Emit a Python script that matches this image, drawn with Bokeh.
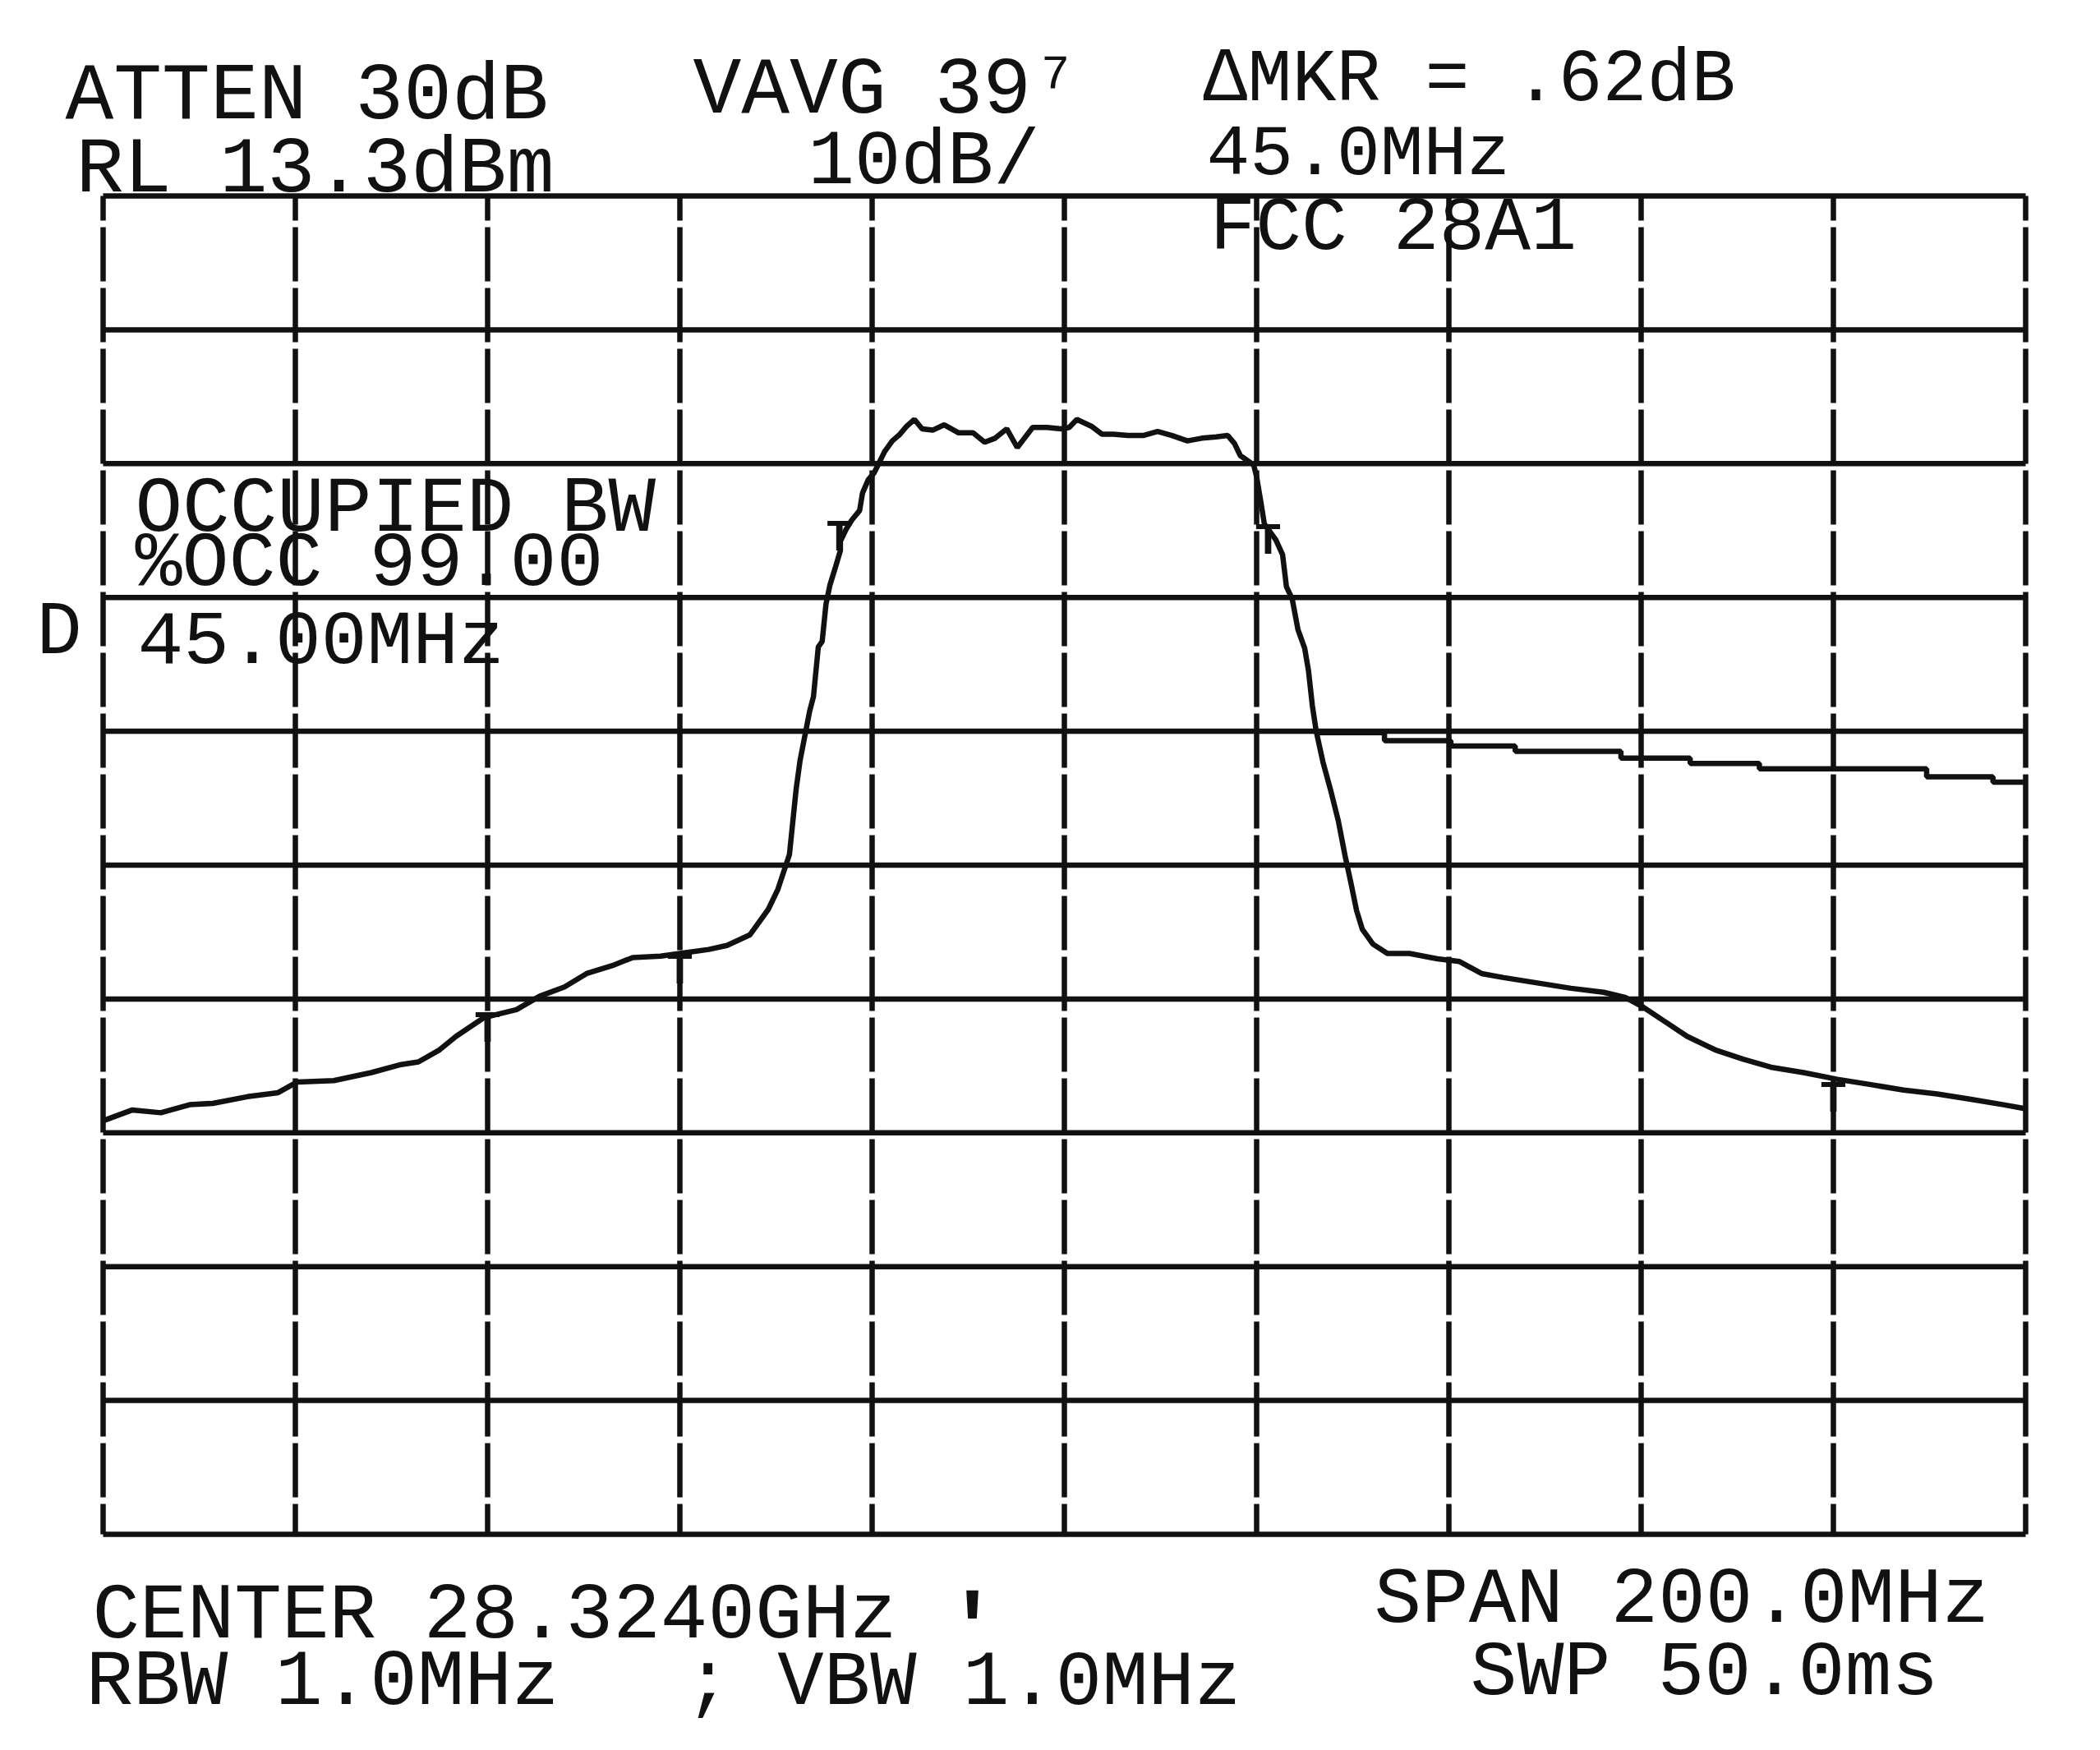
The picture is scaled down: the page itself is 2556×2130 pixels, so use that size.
from bokeh.plotting import figure
from bokeh.models import Label
from bokeh.core.properties import value
from bokeh.embed import file_html
from bokeh.resources import INLINE

# ---- axes of the analyser screen: 200 MHz span (20 MHz/div), RL 13.3 dBm, 10 dB/div
x_divs = [-100, -80, -60, -40, -20, 0, 20, 40, 60, 80, 100]
y_divs = [13.3, 3.3, -6.7, -16.7, -26.7, -36.7, -46.7, -56.7, -66.7, -76.7, -86.7]

# ---- main trace (offset from centre in MHz, level in dBm)
trace_mhz = [
    -100.0, -97.0, -94.0, -91.0, -88.6, -85.0, -81.8, -79.8, -76.0, -72.1, -69.0, -67.2, -65.0, -63.3,
    -60.4, -57.0, -54.6, -52.0, -49.7, -47.0, -44.9, -42.0, -40.0, -37.0, -35.1, -32.7, -30.8, -29.8,
    -28.6, -27.9, -27.5, -26.5, -26.1, -25.6, -25.2, -24.8, -24.4, -23.8, -23.3, -23.3, -22.7, -22.1,
    -21.3, -21.0, -20.4, -19.8, -18.7, -17.9, -17.1, -16.4,
    -15.6, -14.8, -13.7, -12.5, -11.0, -9.5, -8.3, -7.2, -6.0, -4.9, -3.3, -1.8, -0.3, 0.5, 1.3, 2.8,
    3.9, 5.1, 6.6, 8.2, 9.7, 11.2, 12.8, 14.3, 15.8, 17.0, 17.7, 18.3,
    19.7, 20.0, 20.4, 20.8, 22.0, 22.7, 23.1, 23.7, 24.3, 25.0, 25.4, 25.8, 26.2, 26.9, 27.7, 28.5,
    29.2, 29.8, 30.4, 31.0, 32.1, 33.6, 35.9, 38.8, 41.1, 43.4, 45.7, 49.2, 52.7, 56.1, 58.4, 60.2,
    62.5, 64.8, 67.7, 70.6, 73.5, 76.9, 80.4, 83.9, 87.3, 90.8, 94.3, 97.7, 100.0]
trace_dbm = [
    -55.8, -55.0, -55.2, -54.6, -54.5, -54.0, -53.7, -52.9, -52.8, -52.2, -51.6, -51.4, -50.5, -49.5,
    -48.1, -47.5, -46.5, -45.8, -44.8, -44.2, -43.6, -43.5, -43.3, -43.0, -42.7, -41.9, -40.0, -38.5,
    -35.9, -31.0, -28.9, -25.2, -24.1, -20.4, -20.0, -17.2, -15.8, -14.4, -13.2, -12.5, -11.6, -10.9,
    -10.2, -8.9, -7.9, -7.4, -5.8, -5.0, -4.5, -3.9,
    -3.4, -4.1, -4.2, -3.8, -4.4, -4.4, -5.1, -4.8, -4.1, -5.5, -4.0, -4.0, -4.1, -4.0, -3.4, -3.9,
    -4.5, -4.5, -4.6, -4.6, -4.3, -4.6, -5.0, -4.8, -4.7, -4.6, -5.2, -6.1,
    -6.8, -7.7, -9.4, -11.2, -12.4, -13.5, -15.9, -16.8, -19.1, -20.5, -22.2, -24.8, -26.7, -29.0,
    -31.1, -33.4, -36.0, -38.0, -40.1, -41.5, -42.6, -43.3, -43.3, -43.7, -43.9, -44.8, -45.1, -45.5,
    -45.9, -46.2, -46.6, -47.3, -48.4, -49.5, -50.5, -51.2, -51.8, -52.2, -52.7, -53.1, -53.5, -53.8,
    -54.2, -54.6, -54.9]

# ---- second (stepped) trace on the right
line2_mhz = [26.1, 33.3, 40.2, 46.9, 57.9, 65.1, 72.3, 89.7, 96.6, 100.0]
line2_dbm = [-26.8, -27.4, -27.8, -28.2, -28.7, -29.1, -29.5, -30.1, -30.5, -30.5]

# ---- "T" markers on the trace
marker_mhz = [-23.4, 21.2, -60.0, -40.0, 80.0]
marker_dbm = [-11.0, -11.2, -47.7, -43.3, -52.9]

# ---- page geometry (page pixels) of the graticule; the frame fills the whole canvas
GL, GR, GT, GB = 133.0, 2473.0, 246.0, 1875.0
W, H = 2540, 2114
M = 8  # page margin
BASE_SHIFT = 22  # label baseline correction (px)


def dx(px):
    return -100 + (px - GL) / (GR - GL) * 200


def dy(py):
    return 13.3 - (py - GT) / (GB - GT) * 100


p = figure(width=W, height=H, frame_width=W, frame_height=H,
           x_range=(dx(M), dx(M + W)), y_range=(dy(M + H), dy(M)),
           x_axis_location=None, y_axis_location=None,
           output_backend="svg", toolbar_location=None,
           min_border_left=0, min_border_top=0, min_border_right=0, min_border_bottom=0)
p.outline_line_color = None
p.background_fill_color = "white"
p.border_fill_color = "white"
p.grid.visible = False

INK = "#111111"
LW = 6.5
# graticule
p.segment(x0=x_divs, y0=[y_divs[0]] * len(x_divs), x1=x_divs, y1=[y_divs[-1]] * len(x_divs),
          line_color=INK, line_width=LW, line_dash="66 8", line_dash_offset=36)
p.segment(x0=[x_divs[0]] * len(y_divs), y0=y_divs, x1=[x_divs[-1]] * len(y_divs), y1=y_divs,
          line_color=INK, line_width=LW)

# traces
p.line(trace_mhz, trace_dbm, line_color=INK, line_width=LW)
p.step(line2_mhz, line2_dbm, mode="after", line_color=INK, line_width=LW)
p.text(marker_mhz, marker_dbm, text=["T"] * len(marker_mhz), text_font=value("Liberation Mono"),
       text_font_size="54px", text_align="center", text_baseline="top", y_offset=-9,
       text_color=INK, text_font_style="bold")

# ---- texts (left edge and baseline in page pixels, font size in px)
texts = [
    ("ATTEN 30dB", 87, 147, 98),
    ("VAVG 39\u2077", 851, 140, 98),
    ("\u2206MKR = .62dB", 1472, 127, 90),
    ("RL 13.3dBm", 100, 236, 97),
    ("10dB/", 991, 227, 94),
    ("45.0MHz", 1476, 218, 88),
    ("FCC 28A1", 1480, 308, 93),
    ("OCCUPIED BW", 172, 650, 96),
    ("%OCC 99.00", 172, 716, 95),
    ("45.00MHz", 175, 812, 93),
    ("D", 52, 800, 92),
    ("CENTER 28.3240GHz", 120, 1997, 96),
    ("'", 1158, 2015, 110),
    ("RBW 1.0MHz", 112, 2078, 96),
    ("; VBW 1.0MHz", 841, 2078, 94),
    ("SPAN 200.0MHz", 1680, 1978, 96),
    ("SWP 50.0ms", 1797, 2066, 95),
]
for t, px, py, fs in texts:
    p.add_layout(Label(x=dx(px), y=dy(py - BASE_SHIFT), text=t, text_font="Liberation Mono",
                       text_font_size=f"{fs}px", text_color=INK, text_baseline="alphabetic",
                       text_align="left",
                       text_font_style="bold" if t == "'" else "normal"))

open("out.html", "w").write(file_html(p, INLINE))
